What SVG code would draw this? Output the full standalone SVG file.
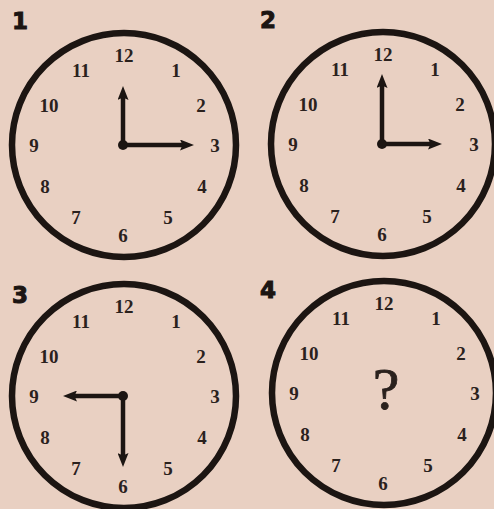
<svg xmlns="http://www.w3.org/2000/svg" width="494" height="509" viewBox="0 0 494 509">
  <defs>
    <marker id="ah" markerUnits="userSpaceOnUse" markerWidth="14" markerHeight="11" refX="6" refY="5.5" orient="auto" viewBox="0 0 14 11">
      <path d="M0,0 L14,5.5 L0,11 L2.5,5.5 z" fill="#1c1512"/>
    </marker>
    <g id="face">
      <circle cx="0" cy="0" r="112" class="rim"/>
      <text x="0" y="-83">12</text>
      <text x="52" y="-68">1</text>
      <text x="77" y="-33">2</text>
      <text x="91" y="7">3</text>
      <text x="78" y="48">4</text>
      <text x="44" y="79">5</text>
      <text x="-1" y="97">6</text>
      <text x="-48" y="79">7</text>
      <text x="-79" y="48">8</text>
      <text x="-90" y="7">9</text>
      <text x="-75" y="-33">10</text>
      <text x="-43" y="-68">11</text>
    </g>
  </defs>
  <style>
    .rim { fill: none; stroke: #1c1512; stroke-width: 6.5; }
    text { font-family: "Liberation Serif", "Times New Roman", serif; font-weight: bold; font-size: 19px; fill: #2a211d; text-anchor: middle; }
    .lbl { font-family: "DejaVu Sans", "Liberation Sans", sans-serif; font-weight: bold; font-size: 23px; fill: #1c1512; stroke: #1c1512; stroke-width: 1; text-anchor: middle; }
    .hand { stroke: #1c1512; stroke-width: 4.5; fill: none; marker-end: url(#ah); }
    .hub { fill: #1c1512; }
    .q { font-family: "Liberation Serif", "Times New Roman", serif; font-weight: normal; font-size: 60px; fill: #2a211d; stroke: #2a211d; stroke-width: 0.8; text-anchor: middle; }
  </style>
  <rect x="0" y="0" width="494" height="509" fill="#e9d0c2"/>

  <g id="clock1">
    <text class="lbl" x="20" y="29">1</text>
    <use href="#face" transform="translate(124,145)"/>
  </g>
  <g id="clock2">
    <text class="lbl" x="268" y="28">2</text>
    <use href="#face" transform="translate(383,144)"/>
  </g>
  <g id="clock3">
    <text class="lbl" x="20" y="303">3</text>
    <use href="#face" transform="translate(124,396)"/>
  </g>
  <g id="clock4">
    <text class="lbl" x="268" y="298">4</text>
    <use href="#face" transform="translate(384,393)"/>
    <text class="q" x="386" y="409">?</text>
  </g>

  <g id="connectors">
    <line class="hand" x1="123" y1="145" x2="123" y2="94"/>
    <line class="hand" x1="123" y1="145" x2="186" y2="145"/>
    <circle class="hub" cx="123" cy="145" r="5"/>

    <line class="hand" x1="382" y1="144" x2="382" y2="82"/>
    <line class="hand" x1="382" y1="144" x2="434" y2="144"/>
    <circle class="hub" cx="382" cy="144" r="5"/>

    <line class="hand" x1="123" y1="396" x2="71" y2="396"/>
    <line class="hand" x1="123" y1="396" x2="123" y2="459"/>
    <circle class="hub" cx="123" cy="396" r="5"/>
  </g>
</svg>
